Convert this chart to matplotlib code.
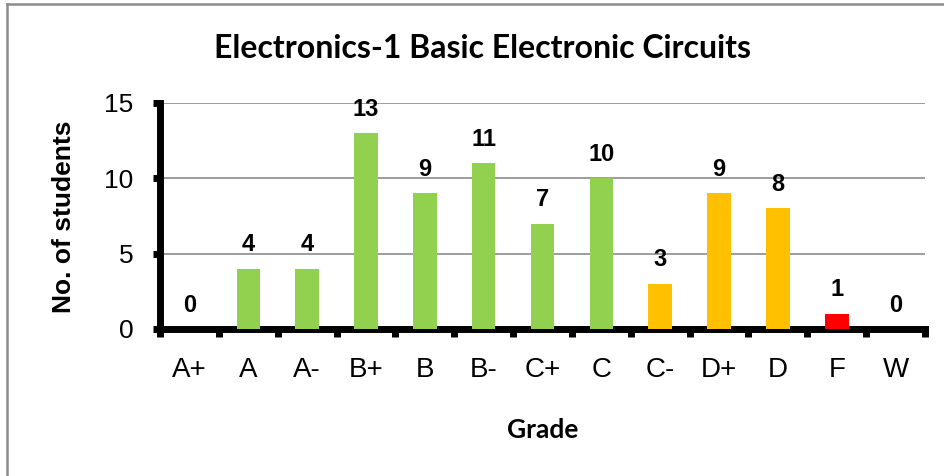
import matplotlib.pyplot as plt
from matplotlib.lines import Line2D

# grade distribution
grades = ["A+", "A", "A-", "B+", "B", "B-", "C+", "C", "C-", "D+", "D", "F", "W"]
students = [0, 4, 4, 13, 9, 11, 7, 10, 3, 9, 8, 1, 0]
bar_colors = ["#92D050"] * 8 + ["#FFC000"] * 3 + ["#FF0000"] + ["#92D050"]

W, H = 944, 476
fig = plt.figure(figsize=(W / 100, H / 100), dpi=100)
ax = fig.add_axes([160 / W, 1 - 329 / H, (925 - 160) / W, (329 - 103) / H])

x = range(len(grades))
ax.bar(x, students, width=0.4, color=bar_colors, zorder=3)

for i, v in enumerate(students):
    ax.annotate(str(v), (i, v), xytext=(0, 9), textcoords="offset points",
                ha="center", va="bottom", fontsize=17, fontweight="bold",
                family="Liberation Sans")

ax.set_xlim(-0.5, len(grades) - 0.5)
ax.set_ylim(0, 15)
ax.set_yticks([0, 5, 10, 15])
ax.yaxis.grid(True, color="#8c8c8c", linewidth=1.2, zorder=0)

# ticks at category boundaries, labels in the middle
ax.set_xticks([i - 0.5 for i in range(len(grades) + 1)])
ax.set_xticklabels([])
ax.set_xticks(list(x), minor=True)
ax.set_xticklabels(grades, minor=True, fontsize=20, family="Liberation Sans")
ax.tick_params(axis="x", which="major", direction="out", length=6, width=5)
ax.tick_params(axis="x", which="minor", length=0, pad=20)
ax.tick_params(axis="y", direction="out", length=5, width=5, pad=14)
for lab in ax.get_yticklabels():
    lab.set_fontsize(19)
    lab.set_family("Liberation Sans")

for s in ["top", "right"]:
    ax.spines[s].set_visible(False)
for s in ["left", "bottom"]:
    ax.spines[s].set_linewidth(5)

fig.text(483 / W, 1 - 48 / H, "Electronics-1 Basic Electronic Circuits",
         ha="center", va="center", fontsize=23, fontweight="bold", family="Lato")
fig.text(64 / W, 1 - 217 / H, "No. of students", rotation=90,
         ha="center", va="center", fontsize=19, fontweight="bold",
         family="Liberation Sans")
fig.text(543 / W, 1 - 430 / H, "Grade",
         ha="center", va="center", fontsize=19, fontweight="bold", family="Lato")

# chart area border (cropped on right and bottom)
fig.add_artist(Line2D([7 / W, 7 / W], [0, 1 - 4 / H], color="#8c8c8c", linewidth=1.8))
fig.add_artist(Line2D([7 / W, 1], [1 - 4 / H, 1 - 4 / H], color="#8c8c8c", linewidth=1.8))

fig.savefig("out.png", dpi=100)
